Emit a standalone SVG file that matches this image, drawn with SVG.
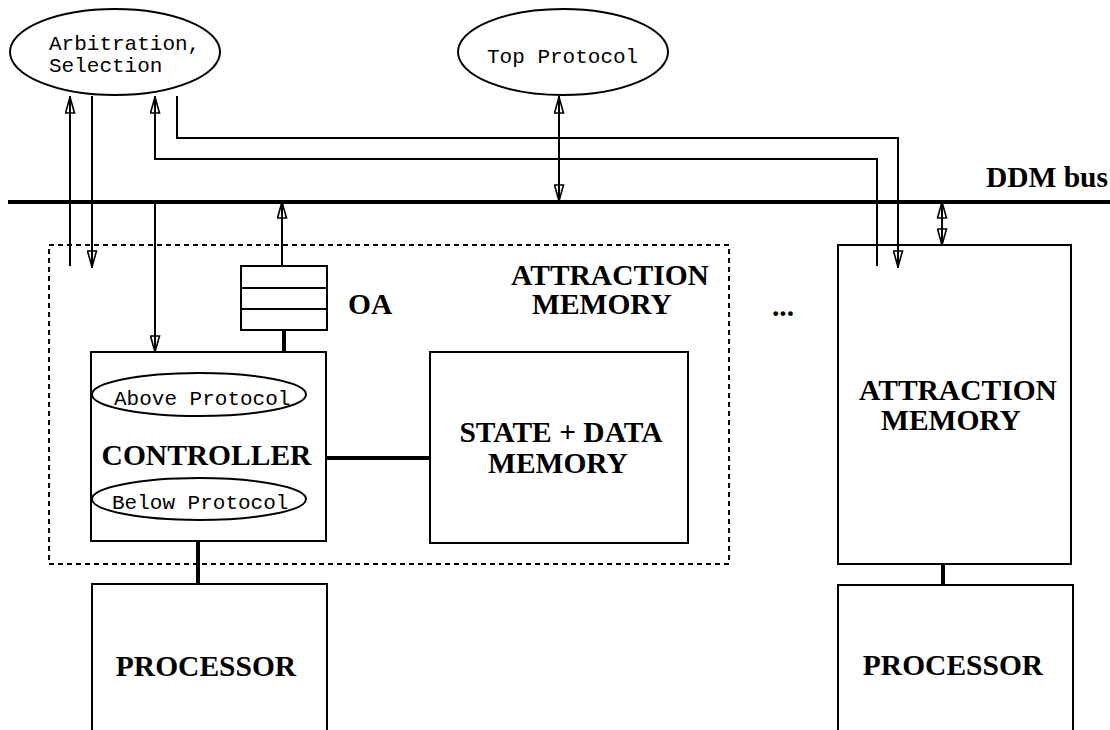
<svg xmlns="http://www.w3.org/2000/svg" width="1110" height="730" viewBox="0 0 1110 730">
<style>
.box{fill:#fff;stroke:#000;stroke-width:2}
.ell{fill:#fff;stroke:#000;stroke-width:2}
.mono{font-family:"Liberation Mono","Courier New",monospace;font-size:21px;fill:#000}
.bold{font-family:"Liberation Serif","Times New Roman",serif;font-weight:bold;font-size:29.5px;fill:#000}
.thin{fill:none;stroke:#000;stroke-width:2}
.thick{fill:none;stroke:#000;stroke-width:4}
.dash{fill:none;stroke:#000;stroke-width:2;stroke-dasharray:5 4}
</style>
<defs>
<marker id="ah" viewBox="0 0 18 11" refX="18" refY="5.5" markerWidth="18" markerHeight="11" markerUnits="userSpaceOnUse" orient="auto-start-reverse">
<path d="M1,1 L17,5.5 L1,10 Z" fill="none" stroke="#000" stroke-width="1.6"/>
</marker>
</defs>
<rect width="1110" height="730" fill="#fff"/>

<g id="attraction-memory-left">
<rect class="dash" x="49" y="245" width="680" height="319"/>
<text class="bold" x="610" y="285" text-anchor="middle">ATTRACTION</text>
<text class="bold" x="602" y="314" text-anchor="middle">MEMORY</text>
</g>

<g id="arbitration">
<ellipse class="ell" cx="115" cy="52" rx="105" ry="43"/>
<text class="mono" x="49" y="50">Arbitration,</text>
<text class="mono" x="49" y="72">Selection</text>
</g>

<g id="top-protocol">
<ellipse class="ell" cx="563" cy="52" rx="105" ry="43"/>
<text class="mono" x="487" y="63">Top Protocol</text>
</g>

<g id="ddm-bus">
<line x1="8" y1="202" x2="1110" y2="202" stroke="#000" stroke-width="4"/>
<text class="bold" x="1108" y="187" text-anchor="end">DDM bus</text>
</g>

<g id="oa">
<rect class="box" x="241" y="266" width="86" height="64"/>
<line class="thin" x1="241" y1="288" x2="327" y2="288"/>
<line class="thin" x1="241" y1="309" x2="327" y2="309"/>
<text class="bold" x="348" y="314">OA</text>
</g>

<g id="controller">
<rect class="box" x="91" y="352" width="235" height="189"/>
<ellipse class="ell" cx="199" cy="394.5" rx="107" ry="21.5"/>
<text class="mono" x="114" y="405">Above Protocol</text>
<text class="bold" x="206.5" y="465" text-anchor="middle">CONTROLLER</text>
<ellipse class="ell" cx="199" cy="499" rx="107" ry="21"/>
<text class="mono" x="112" y="509">Below Protocol</text>
</g>

<g id="state-data-memory">
<rect class="box" x="430" y="352" width="258" height="191"/>
<text class="bold" x="561" y="442" text-anchor="middle">STATE + DATA</text>
<text class="bold" x="558" y="473" text-anchor="middle">MEMORY</text>
</g>

<g id="processor-left">
<rect class="box" x="92" y="584" width="235" height="160"/>
<text class="bold" x="206" y="676" text-anchor="middle">PROCESSOR</text>
</g>

<g id="ellipsis">
<text class="bold" x="783" y="316" text-anchor="middle">...</text>
</g>

<g id="attraction-memory-right">
<rect class="box" x="838" y="245" width="233" height="319"/>
<text class="bold" x="958" y="400" text-anchor="middle">ATTRACTION</text>
<text class="bold" x="951" y="430" text-anchor="middle">MEMORY</text>
</g>

<g id="processor-right">
<rect class="box" x="838" y="585" width="235" height="160"/>
<text class="bold" x="953" y="675" text-anchor="middle">PROCESSOR</text>
</g>

<g id="connectors">
<line class="thin" x1="70" y1="266" x2="70" y2="96" marker-end="url(#ah)"/>
<line class="thin" x1="92" y1="96" x2="92" y2="268" marker-end="url(#ah)"/>
<polyline class="thin" points="877,266 877,159 155,159 155,96" marker-end="url(#ah)"/>
<polyline class="thin" points="177,96 177,138 898,138 898,268" marker-end="url(#ah)"/>
<line class="thin" x1="559" y1="96" x2="559" y2="202" marker-start="url(#ah)" marker-end="url(#ah)"/>
<line class="thin" x1="942" y1="201" x2="942" y2="246" marker-start="url(#ah)" marker-end="url(#ah)"/>
<line class="thin" x1="155" y1="202" x2="155" y2="353" marker-end="url(#ah)"/>
<line class="thin" x1="282" y1="266" x2="282" y2="201" marker-end="url(#ah)"/>
<line class="thick" x1="284" y1="330" x2="284" y2="352"/>
<line class="thick" x1="326" y1="458" x2="431" y2="458"/>
<line class="thick" x1="198" y1="541" x2="198" y2="584"/>
<line class="thick" x1="943" y1="564" x2="943" y2="585"/>
</g>
</svg>
